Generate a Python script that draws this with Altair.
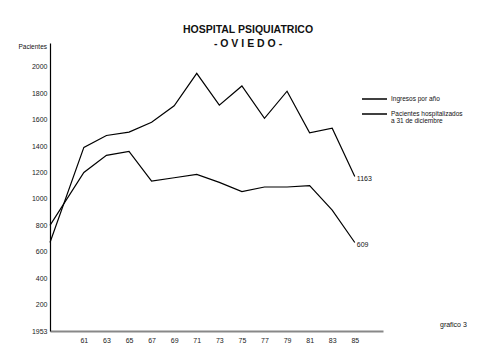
import altair as alt
import pandas as pd

years = [1958, 1961, 1963, 1965, 1967, 1969, 1971, 1973, 1975, 1977, 1979, 1981, 1983, 1985]
ingresos = [670, 1390, 1480, 1505, 1580, 1705, 1950, 1710, 1855, 1610, 1815, 1500, 1535, 1170]
pacientes = [800, 1200, 1330, 1360, 1135, 1160, 1185, 1125, 1055, 1090, 1090, 1100, 915, 670]
series_names = ["Ingresos por año", "Pacientes hospitalizados"]
legend_lines = [["Ingresos por año"], ["Pacientes  hospitalizados", "a 31  de  diciembre"]]
end_labels = ["1163", "609"]
x_ticks = [1961, 1963, 1965, 1967, 1969, 1971, 1973, 1975, 1977, 1979, 1981, 1983, 1985]
y_ticks = [0, 200, 400, 600, 800, 1000, 1200, 1400, 1600, 1800, 2000]

rows = []
for i, y in enumerate(years):
    rows.append({"year": y, "value": ingresos[i], "serie": series_names[0]})
    rows.append({"year": y, "value": pacientes[i], "serie": series_names[1]})
df = pd.DataFrame(rows)

ends = pd.DataFrame({
    "year": [years[-1], years[-1]],
    "value": [ingresos[-1], pacientes[-1]],
    "label": end_labels,
})

FONT = "Liberation Sans"
W, H = 333, 288

xs = alt.Scale(domain=[1958, 1987.5], nice=False, zero=False)
ys = alt.Scale(domain=[0, 2180], nice=False, zero=True)

x_axis = alt.Axis(
    values=x_ticks, format="d", labelExpr="substring(datum.label, 2)",
    labelOverlap=False, labelFlush=False,
    title=None, grid=False, ticks=False, domainColor="#888", domainWidth=2,
    labelFont=FONT, labelFontSize=7, labelColor="#222", labelPadding=5)
y_axis = alt.Axis(
    values=y_ticks, labelExpr="datum.value == 0 ? '1953' : datum.value",
    labelOverlap=False, labelFlush=False,
    title=None, grid=False, ticks=False, domainColor="black", domainWidth=1.2,
    labelFont=FONT, labelFontSize=7, labelColor="#222", labelPadding=3)

lines = alt.Chart(df).mark_line(color="black", strokeWidth=1.2).encode(
    x=alt.X("year:Q", scale=xs, axis=x_axis),
    y=alt.Y("value:Q", scale=ys, axis=y_axis),
    detail="serie:N",
)

end_text = alt.Chart(ends).mark_text(align="left", baseline="middle", dx=2, dy=3,
                                     font=FONT, fontSize=7, color="#111").encode(
    x=alt.X("year:Q", scale=xs, axis=x_axis),
    y=alt.Y("value:Q", scale=ys, axis=y_axis),
    text="label:N")

title1 = alt.Chart(pd.DataFrame({"t": ["HOSPITAL  PSIQUIATRICO"]})).mark_text(
    align="center", baseline="middle", font=FONT, fontSize=10.5, fontWeight="bold", color="#111"
).encode(x=alt.value(198), y=alt.value(-13), text="t:N")
title2 = alt.Chart(pd.DataFrame({"t": ["- O V I E D O -"]})).mark_text(
    align="center", baseline="middle", font=FONT, fontSize=10.5, fontWeight="bold", color="#111"
).encode(x=alt.value(198), y=alt.value(1), text="t:N")

ytitle = alt.Chart(pd.DataFrame({"t": ["Pacientes"]})).mark_text(
    align="right", baseline="middle", font=FONT, fontSize=6.5, color="#111"
).encode(x=alt.value(-3), y=alt.value(4), text="t:N")

grafico = alt.Chart(pd.DataFrame({"t": ["grafico  3"]})).mark_text(
    align="left", baseline="middle", font=FONT, fontSize=7, color="#111"
).encode(x=alt.value(390), y=alt.value(282), text="t:N")

leg_rules = alt.Chart(pd.DataFrame({"serie": series_names, "y": [56, 71]})).mark_rule(
    color="black", strokeWidth=1.5
).encode(x=alt.value(312), x2=alt.value(337), y=alt.Y("y:Q", scale=None))

leg_rows = []
for i, ls in enumerate(legend_lines):
    for j, t in enumerate(ls):
        leg_rows.append({"t": t, "y": 56 + 15 * i + 7 * j})
leg_text = alt.Chart(pd.DataFrame(leg_rows)).mark_text(
    align="left", baseline="middle", font=FONT, fontSize=6.5, color="#111"
).encode(x=alt.value(341), y=alt.Y("y:Q", scale=None), text="t:N")

chart = alt.layer(lines, end_text, title1, title2, ytitle, grafico, leg_rules, leg_text).properties(
    width=W, height=H,
    autosize=alt.AutoSizeParams(type="none"),
    padding={"left": 42, "top": 35, "right": 109, "bottom": 23},
).configure(background="white").configure_view(stroke=None).configure_axis(labelOverlap=False)

chart.save("out.html", embed_options={"renderer": "svg", "actions": False})
